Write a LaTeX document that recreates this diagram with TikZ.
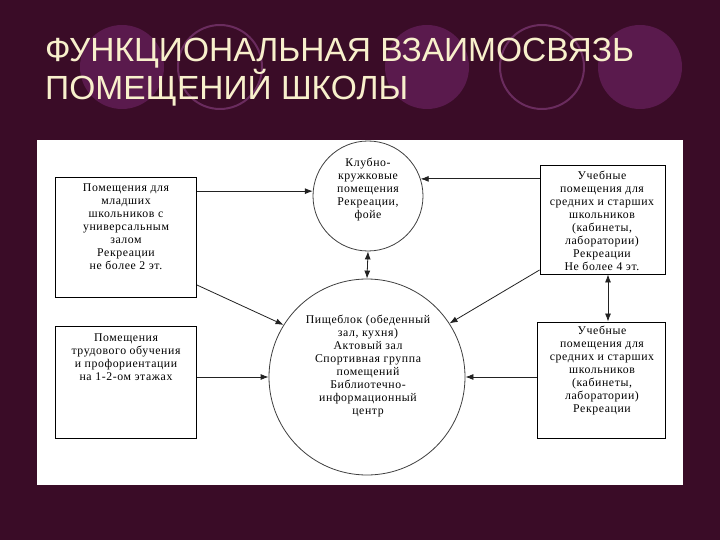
\documentclass[tikz,border=0pt]{standalone}
\usepackage{fontspec}
\setmainfont{Liberation Serif}[LetterSpace=5]
\newfontfamily\titlefont{Liberation Sans}
\usetikzlibrary{arrows.meta}
\definecolor{bg}{HTML}{3A0C27}
\definecolor{disc}{HTML}{5A1A4D}
\definecolor{ringc}{HTML}{6A2C5E}
\definecolor{titlec}{HTML}{F8F0CC}
\definecolor{linec}{HTML}{222222}
\begin{document}
\begin{tikzpicture}[x=1pt,y=-1pt,
  txt/.style={font=\fontsize{11.8}{13}\selectfont, align=center, inner sep=0pt, anchor=north},
  boxnode/.style={draw=black, line width=0.9pt, inner sep=0pt},
  circnode/.style={draw=black!75, line width=0.8pt, circle, inner sep=0pt},
  conn/.style={draw=linec, line width=0.8pt, -{Latex[length=8pt,width=6pt]}},
  dconn/.style={draw=linec, line width=0.8pt, {Latex[length=8pt,width=6pt]}-{Latex[length=8pt,width=6pt]}},
  ttl/.style={font=\titlefont\fontsize{33.5}{38}\selectfont, text=titlec, anchor=base west, inner sep=0pt}
]
\useasboundingbox (0,0) rectangle (720,540);
\fill[bg] (0,0) rectangle (720,540);
% decorative circles
\fill[disc] (122,67) circle[radius=42];
\draw[ringc, line width=2pt] (220,67) circle[radius=42];
\fill[disc] (427,67) circle[radius=42];
\draw[ringc, line width=2pt] (542,67) circle[radius=42];
\fill[disc] (640,67) circle[radius=42];
% title
\node[ttl] (t1) at (45,62) {ФУНКЦИОНАЛЬНАЯ ВЗАИМОСВЯЗЬ};
\node[ttl] (t2) at (45,100) {ПОМЕЩЕНИЙ ШКОЛЫ};
% panel
\fill[white] (37,140) rectangle (683,485);
% boxes
\node[boxnode, minimum width=141pt, minimum height=120pt] (A) at (126,237) {};
\node[boxnode, minimum width=141pt, minimum height=112pt] (B) at (126,382) {};
\node[boxnode, minimum width=125pt, minimum height=109pt] (C) at (602.5,219.5) {};
\node[boxnode, minimum width=128pt, minimum height=116pt] (D) at (601,380) {};
\node[circnode, minimum size=110pt] (K) at (368,196) {};
\node[circnode, minimum size=196pt] (M) at (367,377) {};
% texts
\node[txt] (At) at (126,184) {Помещения для\\младших\\школьников с\\универсальным\\залом\\Рекреации\\не более 2 эт.};
\node[txt] (Bt) at (126,334) {Помещения\\трудового обучения\\и профориентации\\на 1-2-ом этажах};
\node[txt] (Ct) at (602,171) {Учебные\\помещения для\\средних и старших\\школьников\\(кабинеты,\\лаборатории)\\Рекреации\\Не более 4 эт.};
\node[txt] (Dt) at (602,326) {Учебные\\помещения для\\средних и старших\\школьников\\(кабинеты,\\лаборатории)\\Рекреации};
\node[txt] (Kt) at (368,158) {Клубно-\\кружковые\\помещения\\Рекреации,\\фойе};
\node[txt] (Mt) at (368,315) {Пищеблок (обеденный\\зал, кухня)\\Актовый зал\\Спортивная группа\\помещений\\Библиотечно-\\информационный\\центр};
% connectors
\draw[conn] (A.east |- K.175) -- (K.175);
\draw[conn] (C.west |- K.18) -- (K.18);
\draw[dconn] (K.south) -- (M.north);
\coordinate (a1) at (A.east |- 0,285);
\draw[conn] (a1) -- (M.148);
\coordinate (c1) at (C.west |- 0,270);
\draw[conn] (c1) -- (M.33);
\draw[dconn] (C.south -| 608,0) -- (D.north -| 608,0);
\draw[conn] (B.east |- M.west) -- (M.west);
\draw[conn] (D.west |- M.east) -- (M.east);
\end{tikzpicture}
\end{document}
